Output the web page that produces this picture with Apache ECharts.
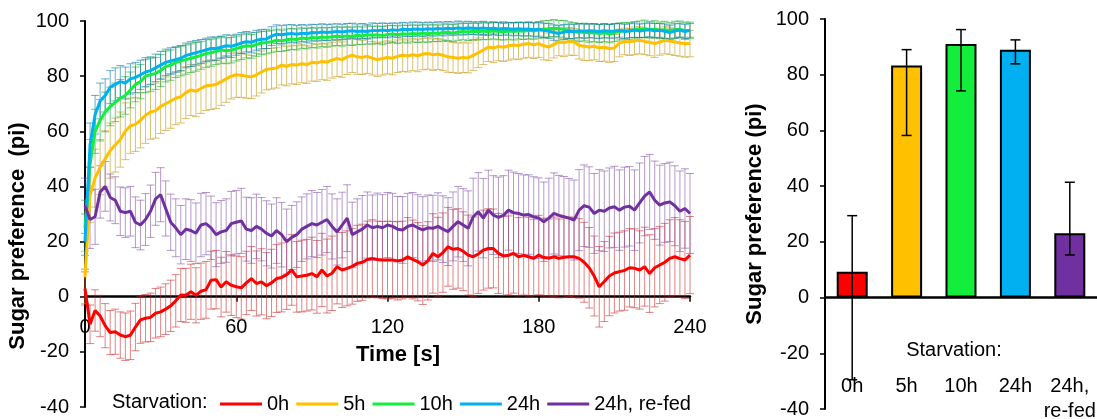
<!DOCTYPE html>
<html>
<head>
<meta charset="utf-8">
<title>Sugar preference</title>
<script src="https://cdn.jsdelivr.net/npm/echarts@6/dist/echarts.min.js"></script>
<style>
  html, body { margin: 0; padding: 0; background: #fff; }
  #chart { width: 1097px; height: 419px; }
</style>
</head>
<body>
<div id="chart"></div>
<script>
// time points (s)
const times = [
  0, 2, 4, 6, 8, 10, 12, 14, 16, 18,
  20, 22, 24, 26, 28, 30, 32, 34, 36, 38,
  40, 42, 44, 46, 48, 50, 52, 54, 56, 58,
  60, 62, 64, 66, 68, 70, 72, 74, 76, 78,
  80, 82, 84, 86, 88, 90, 92, 94, 96, 98,
  100, 102, 104, 106, 108, 110, 112, 114, 116, 118,
  120, 122, 124, 126, 128, 130, 132, 134, 136, 138,
  140, 142, 144, 146, 148, 150, 152, 154, 156, 158,
  160, 162, 164, 166, 168, 170, 172, 174, 176, 178,
  180, 182, 184, 186, 188, 190, 192, 194, 196, 198,
  200, 202, 204, 206, 208, 210, 212, 214, 216, 218,
  220, 222, 224, 226, 228, 230, 232, 234, 236, 238,
  240
];

// mean sugar preference per group
const pi0h = [
  3, -10, -5, -7, -10.5, -13, -12.7, -13.9, -14.5, -14,
  -11, -8.4, -7.8, -7.5, -6, -5.5, -4.5, -3.3, -1.5, 0.6,
  0.5, 1.8, 0.5, 2, 2.5, 6, 6.2, 3.5, 5.4, 4.2,
  3.6, 3.2, 5, 6.6, 4.8, 5.4, 4, 5, 6.6, 7,
  8, 9.7, 7.2, 7.5, 7.8, 8.4, 7.2, 9.7, 7.5, 8.5,
  10.9, 9.7, 10.3, 11, 12.1, 12.5, 13.5, 13.9, 13.5, 13.3,
  13.3, 13.3, 13, 13.3, 14.5, 13.5, 12.7, 11.5, 13, 15.7,
  14.5, 16, 18.1, 17.2, 17.5, 16.5, 15.1, 14.5, 15.5, 16.9,
  17.5, 17.5, 15.7, 14.8, 15, 15.7, 14.5, 15, 14.5, 13.9,
  15.1, 14.2, 14, 14.5, 13.9, 14.3, 14.5, 14.5, 13.9, 12.5,
  10.5, 7.5, 3.6, 5.5, 7.5, 8.6, 9.1, 9.5, 10.5, 10.3,
  9.7, 10.9, 8.4, 10.5, 11.5, 12.5, 13.9, 14.5, 13.8, 13.3,
  15.1
];
const pi5h = [
  7, 37, 43, 47, 50, 53, 55, 57, 60, 62,
  62.5, 64, 65.8, 67, 67.5, 69, 70, 71, 72, 72.5,
  74, 75, 74.5, 75.5, 76.5, 76.7, 77, 78, 79, 80,
  80.5, 80.3, 80, 79.7, 80.5, 81.5, 82.5, 82.7, 83, 84,
  83.6, 84.2, 84, 84.5, 84.2, 85, 84.8, 85.3, 85.1, 85.8,
  86.4, 86, 87, 87.6, 87, 86.8, 87.2, 86.5, 86, 86.4,
  86.8, 86.5, 87.2, 87.6, 87.3, 87.8, 87.4, 88, 88.2, 87.8,
  88, 87.6, 87, 86.8, 86.5, 86.8, 86.6, 87.5, 88.5, 89.5,
  90.6, 90.2, 90.8, 90.5, 91, 91.3, 91.1, 91.6, 91.8, 91.4,
  91.8, 91, 90.6, 91.5, 92.4, 92.2, 92.6, 92.4, 91.2, 90.8,
  90.6, 90.8, 90.3, 90.5, 90, 90.2, 92, 92.6, 92.4, 92.8,
  93, 92.6, 92.3, 91.8, 92.4, 93, 92.7, 92.4, 92, 91.8,
  91.8
];
const pi10h = [
  25, 48, 60, 64, 67, 69, 70.5, 72, 73, 75,
  77, 78, 80, 80.5, 81, 82, 83.5, 84, 85, 85.5,
  86, 86.5, 87, 87.5, 88.2, 88.5, 89, 89.5, 89.2, 89.4,
  90, 90.5, 91, 90.8, 91.5, 92, 92.2, 92.5, 93, 92.8,
  93.2, 93.5, 93.3, 93.8, 93.6, 94, 93.8, 94.2, 94, 94.3,
  94.5, 94.3, 94.6, 94.4, 94.8, 94.6, 95, 94.8, 95, 94.7,
  95.1, 95.3, 95, 95.4, 95.2, 95.5, 95.3, 95.6, 95.4, 95.7,
  95.5, 95.8, 95.9, 95.6, 96, 96.2, 96, 96.3, 96.1, 96.4,
  96.2, 96.5, 96.3, 96.1, 96.4, 96.2, 96.5, 96.3, 96.6, 96.4,
  96.8, 97, 97.2, 97.4, 97.2, 97, 96.6, 96.2, 95.8, 96,
  95.6, 95.8, 95.5, 95.7, 95.4, 95.8, 96.2, 96.5, 96.3, 96.8,
  97, 97.2, 96.8, 97, 96.6, 96.8, 96.4, 96.8, 97, 96.5,
  96.6
];
const pi24h = [
  20, 55, 66, 71, 73, 76, 77, 78, 77.5, 79,
  79.5, 80.5, 81.5, 82, 83, 84, 85, 85.5, 86, 86.5,
  87.5, 88, 88.5, 89, 89.5, 90, 90, 90.5, 91, 90.8,
  91.4, 92, 92.5, 92.3, 93, 93.4, 93.5, 94.5, 95.2, 95,
  95.3, 95.5, 95.2, 95.6, 95.4, 95.8, 95.7, 96, 95.8, 96,
  96.2, 96, 96.3, 96.5, 96.2, 96.4, 96.2, 96.6, 96.5, 96.7,
  96.5, 96.8, 96.6, 97, 96.8, 97, 97.1, 96.9, 97.2, 97,
  97.3, 97.1, 97.4, 97.2, 97.5, 97.3, 97.5, 97.4, 97.3, 97.5,
  97.2, 97.4, 97.1, 97.3, 97.2, 97, 97.2, 97, 97.1, 96.8,
  97, 96.6, 96.4, 95.8, 95.5, 96, 96.3, 96.2, 96.5, 96.3,
  96.5, 96.4, 96.2, 96.5, 96.3, 96.4, 96.6, 96.2, 96.5, 96.7,
  96.4, 96.6, 96.8, 96.5, 96.6, 96.3, 95.8, 96.4, 96.7, 96.2,
  96.6
];
const pi24hRefed = [
  33, 28, 29, 38, 40, 36, 35, 31, 30.5, 31,
  27, 26, 28, 31, 35.5, 37, 32, 27, 25, 22.5,
  24.5, 24, 23, 26, 26.5, 25, 22.5, 23.5, 24, 26.5,
  27, 27.5, 24.5, 24, 25.5, 24.5, 23, 22, 24, 22.5,
  20, 21.5, 22.5, 24.5, 25.5, 26.5, 26, 27, 28, 25.5,
  23.5, 26, 28.5, 22.5, 23.5, 24.5, 26, 25, 25.5, 25,
  26, 25.5, 24.5, 24.2, 25.5, 26, 25, 24.2, 25, 24.8,
  25.5, 24.5, 23.6, 25.5, 27.2, 26, 24.8, 29, 30.8, 28.5,
  31.4, 29.6, 28.8, 29.5, 31.4, 30.5, 30.2, 29.6, 29.8, 29,
  28.5, 27.2, 28.5, 30.2, 29.5, 29, 28.5, 27.8, 31.4, 33,
  32.5, 30.2, 31.4, 31, 32.2, 32.6, 31.4, 32.5, 32.8, 31.4,
  34, 36.5, 38, 35, 33.2, 34, 34.4, 33, 31, 32,
  30.2
];

// error (+/-) per group
const err0h = [
  6, 7, 7.5, 7.5, 8, 8, 8.2, 8.4, 8.6, 8.8,
  8.6, 8.5, 8.6, 8.8, 9, 9, 9.2, 9.3, 9.5, 9.6,
  9.8, 10, 10, 10.2, 10.3, 10.5, 10.6, 10.8, 11, 11,
  11.2, 11.3, 11.5, 11.6, 11.8, 12, 12, 12.2, 12.3, 12.5,
  12.6, 12.8, 12.8, 13, 13, 13.2, 13.2, 13.3, 13.4, 13.5,
  13.5, 13.6, 13.6, 13.7, 13.8, 13.8, 13.9, 14, 13.9, 14,
  14.1, 14, 14.2, 14.1, 14.2, 14.3, 14.2, 14.3, 14.2, 14.4,
  14.3, 14.4, 14.3, 14.5, 14.4, 14.3, 14.5, 14.4, 14.3, 14.5,
  14.4, 14.3, 14.5, 14.4, 14.3, 14.4, 14.2, 14.4, 14.3, 14.2,
  14.4, 14.3, 14.2, 14.4, 14.3, 14.5, 14.4, 14.3, 14.4, 14.5,
  14.6, 14.5, 14.6, 14.5, 14.4, 14.5, 14.3, 14.4, 14.2, 14.3,
  14.2, 14.3, 14.1, 14.2, 14, 14.1, 14, 14.2, 14.1, 14,
  14
];
const err5h = [
  9.5, 10, 10.5, 10, 10.2, 10, 9.8, 10, 10.3, 10,
  9.8, 10, 10.2, 9.9, 10, 9.8, 9.7, 9.9, 9.6, 9.5,
  9.4, 9.3, 9.2, 9, 9, 8.8, 8.7, 8.6, 8.5, 8.3,
  8.2, 8, 8, 7.8, 7.7, 7.6, 7.5, 7.4, 7.3, 7.2,
  7.1, 7, 7, 6.9, 6.8, 6.8, 6.7, 6.6, 6.6, 6.5,
  6.5, 6.4, 6.4, 6.3, 6.3, 6.2, 6.2, 6.1, 6.1, 6,
  6, 6, 5.9, 5.9, 5.8, 5.8, 5.8, 5.7, 5.7, 5.7,
  5.6, 5.6, 5.6, 5.5, 5.5, 5.5, 5.4, 5.4, 5.4, 5.3,
  5.3, 5.3, 5.2, 5.2, 5.2, 5.1, 5.1, 5.1, 5, 5,
  5, 5.1, 5, 4.9, 5, 5.1, 5, 4.9, 5, 5.1,
  5, 4.9, 5, 5.1, 5, 4.9, 5, 4.8, 4.9, 5,
  4.9, 4.8, 4.9, 5, 4.8, 4.9, 4.8, 4.9, 4.8, 4.9,
  4.8
];
const err10h = [
  10, 9, 8, 7.5, 7.2, 7, 7, 6.8, 6.8, 6.5,
  6.3, 6.2, 6, 6, 5.8, 5.8, 5.6, 5.5, 5.5, 5.4,
  5.3, 5.2, 5.2, 5, 5, 4.9, 4.8, 4.8, 4.7, 4.6,
  4.5, 4.5, 4.4, 4.3, 4.3, 4.2, 4.1, 4, 4, 3.9,
  3.9, 3.8, 3.8, 3.7, 3.7, 3.6, 3.6, 3.5, 3.5, 3.4,
  3.4, 3.4, 3.3, 3.3, 3.3, 3.2, 3.3, 3.2, 3.2, 3.3,
  3.2, 3.1, 3.2, 3.1, 3.2, 3.1, 3.1, 3.2, 3.1, 3.1,
  3, 3.1, 3, 3.1, 3, 3, 3.1, 3, 3, 3.1,
  3, 3, 3.1, 3, 3, 3.1, 3, 3, 3.1, 3,
  3, 3.1, 3, 3.1, 3, 3.2, 3.1, 3.2, 3.3, 3.2,
  3.3, 3.2, 3.3, 3.2, 3.3, 3.2, 3.1, 3, 3.1, 3,
  3, 3.1, 3, 3.1, 3, 3.1, 3, 3.1, 3, 3.1,
  3
];
const err24h = [
  10, 8, 7, 6.5, 6, 6, 6, 5.8, 5.8, 5.5,
  5.5, 5.3, 5.2, 5, 5, 5, 4.8, 4.8, 4.6, 4.6,
  4.5, 4.5, 4.4, 4.3, 4.3, 4.2, 4.2, 4, 4, 4,
  3.8, 3.8, 3.7, 3.6, 3.6, 3.5, 3.5, 3.4, 3.4, 3.3,
  3.3, 3.2, 3.2, 3.1, 3.1, 3, 3, 3, 2.9, 2.9,
  2.8, 2.8, 2.8, 2.7, 2.7, 2.7, 2.6, 2.7, 2.6, 2.6,
  2.6, 2.5, 2.6, 2.5, 2.5, 2.6, 2.5, 2.5, 2.4, 2.5,
  2.4, 2.5, 2.4, 2.4, 2.5, 2.4, 2.4, 2.3, 2.4, 2.4,
  2.4, 2.3, 2.4, 2.4, 2.3, 2.4, 2.4, 2.5, 2.4, 2.5,
  2.5, 2.6, 2.7, 2.8, 2.8, 2.7, 2.6, 2.6, 2.5, 2.6,
  2.5, 2.6, 2.5, 2.6, 2.5, 2.6, 2.5, 2.6, 2.5, 2.6,
  2.5, 2.6, 2.5, 2.6, 2.5, 2.6, 2.7, 2.6, 2.5, 2.6,
  2.5
];
const err24hRefed = [
  10, 10.5, 10, 9.5, 9, 8.5, 8.5, 8.8, 9, 9,
  9.2, 9, 9.4, 9.5, 9.6, 9.8, 10, 10.2, 10.5, 10.6,
  11, 11.2, 11, 11.5, 11.3, 11.5, 11.6, 11.4, 11.5, 11.7,
  11.5, 11.8, 11.6, 11.9, 11.7, 11.5, 11.8, 11.6, 11.9, 11.7,
  11.8, 11.6, 11.9, 11.7, 11.8, 12, 11.8, 11.9, 12, 11.8,
  12, 11.9, 12.1, 11.8, 12, 12.2, 12, 11.9, 12.1, 12,
  11.8, 12, 11.9, 12.1, 12, 11.8, 12, 12.1, 11.9, 12,
  12.2, 12.1, 12.3, 12.5, 12.8, 13.2, 13.6, 14, 14.2, 14.4,
  14.5, 14.3, 14.6, 14.4, 14.5, 14.7, 14.5, 14.6, 14.4, 14.5,
  14.6, 14.4, 14.5, 14.7, 14.5, 14.6, 14.4, 14.5, 14.7, 14.8,
  14.6, 14.5, 14.7, 14.6, 14.5, 14.7, 14.6, 14.5, 14.4, 14.6,
  14.5, 14.4, 13.6, 14.2, 14.5, 14.3, 14.4, 14.5, 14.6, 14.4,
  14.5
];

// right panel: summary per group (median with range)
const groups = ['0h', '5h', '10h', '24h', '24h,\nre-fed'];
const groupValue = [9.3, 83.3, 91, 89, 23.1];
const groupLow = [-29.5, 58.2, 74.2, 83.9, 15.3];
const groupHigh = [29.4, 89, 96.2, 92.5, 41.4];

const legendNames = ['0h', '5h', '10h', '24h', '24h, re-fed'];
const lineColors = ['#FF0000', '#FFC000', '#13EE3C', '#00B0F0', '#7030A0'];
const errColors = ['rgba(200,30,30,0.55)', 'rgba(196,150,20,0.6)', 'rgba(20,170,40,0.6)', 'rgba(0,120,170,0.6)', 'rgba(120,70,160,0.55)'];
const means = [pi0h, pi5h, pi10h, pi24h, pi24hRefed];
const errs = [err0h, err5h, err10h, err24h, err24hRefed];

const FONT = 'Liberation Sans, Arial, sans-serif';

// grid geometry: the y range is -40..100, the x axis sits on y = 0
const leftGrid = { left: 85, top: 21, width: 605, height: 386 };
const rightGrid = { left: 825, top: 19, width: 272, height: 390 };
const zeroOffset = g => -(g.height * 40 / 140);

function errorBars(i) {
  return {
    type: 'custom',
    name: legendNames[i] + ' err',
    xAxisIndex: 0,
    yAxisIndex: 0,
    z: 1,
    silent: true,
    clip: false,
    encode: { x: 0, y: [1, 2] },
    data: times.map((t, k) => [t, means[i][k] - errs[i][k], means[i][k] + errs[i][k]]),
    renderItem: function (params, api) {
      const lo = api.coord([api.value(0), api.value(1)]);
      const hi = api.coord([api.value(0), api.value(2)]);
      const w = 4;
      const st = { stroke: errColors[i], lineWidth: 1 };
      return {
        type: 'group',
        children: [
          { type: 'line', shape: { x1: lo[0], y1: lo[1], x2: hi[0], y2: hi[1] }, style: st },
          { type: 'line', shape: { x1: lo[0] - w, y1: lo[1], x2: lo[0] + w, y2: lo[1] }, style: st },
          { type: 'line', shape: { x1: hi[0] - w, y1: hi[1], x2: hi[0] + w, y2: hi[1] }, style: st }
        ]
      };
    }
  };
}

function meanLine(i) {
  return {
    type: 'line',
    name: legendNames[i],
    xAxisIndex: 0,
    yAxisIndex: 0,
    z: 3,
    symbol: 'none',
    showSymbol: false,
    data: times.map((t, k) => [t, means[i][k]]),
    lineStyle: { color: lineColors[i], width: 3 },
    itemStyle: { color: lineColors[i] }
  };
}

const yAxisCommon = {
  type: 'value',
  min: -40,
  max: 100,
  interval: 20,
  splitLine: { show: false },
  axisLine: { show: true, onZero: false, lineStyle: { color: '#000', width: 2 } },
  axisTick: { show: true, length: 5, lineStyle: { color: '#000', width: 1.5 } },
  axisLabel: { margin: 16, fontSize: 20, color: '#000', fontFamily: FONT }
};

const chart = echarts.init(document.getElementById('chart'));
chart.setOption({
  animation: false,
  backgroundColor: '#fff',
  grid: [
    Object.assign({ outerBoundsMode: 'none', containLabel: false }, leftGrid),
    Object.assign({ outerBoundsMode: 'none', containLabel: false }, rightGrid)
  ],
  xAxis: [
    {
      gridIndex: 0,
      type: 'value',
      min: 0,
      max: 240,
      interval: 60,
      offset: zeroOffset(leftGrid),
      splitLine: { show: false },
      axisLine: { onZero: false, lineStyle: { color: '#000', width: 2.5 } },
      axisTick: { length: 5, lineStyle: { color: '#000', width: 1.5 } },
      axisLabel: { margin: 21, fontSize: 20, color: '#000', fontFamily: FONT }
    },
    {
      gridIndex: 1,
      type: 'category',
      data: groups,
      offset: zeroOffset(rightGrid),
      axisLine: { onZero: false, lineStyle: { color: '#000', width: 2.5 } },
      axisTick: { show: false },
      axisLabel: { margin: 76, interval: 0, fontSize: 20, lineHeight: 25, color: '#000', fontFamily: FONT }
    }
  ],
  yAxis: [
    Object.assign({ gridIndex: 0 }, yAxisCommon),
    Object.assign({ gridIndex: 1 }, yAxisCommon)
  ],
  legend: {
    data: legendNames,
    left: 220,
    top: 394,
    padding: 0,
    icon: 'rect',
    itemWidth: 42,
    itemHeight: 3,
    itemGap: 7,
    selectedMode: false,
    textStyle: { fontSize: 20, color: '#000', fontFamily: FONT }
  },
  graphic: [
    { type: 'text', style: { x: 112, y: 402, text: 'Starvation:', font: '20px ' + FONT, fill: '#000', align: 'left', verticalAlign: 'middle' } },
    { type: 'text', style: { x: 398, y: 355, text: 'Time [s]', font: 'bold 22px ' + FONT, fill: '#000', align: 'center', verticalAlign: 'middle' } },
    { type: 'text', x: 18, y: 236, rotation: Math.PI / 2, style: { x: 0, y: 0, text: 'Sugar preference  (pi)', font: 'bold 22px ' + FONT, fill: '#000', align: 'center', verticalAlign: 'middle' } },
    { type: 'text', x: 755, y: 214, rotation: Math.PI / 2, style: { x: 0, y: 0, text: 'Sugar preference (pi)', font: 'bold 22px ' + FONT, fill: '#000', align: 'center', verticalAlign: 'middle' } },
    { type: 'text', style: { x: 954, y: 350, text: 'Starvation:', font: '20px ' + FONT, fill: '#000', align: 'center', verticalAlign: 'middle' } }
  ],
  series: [
    errorBars(0), errorBars(1), errorBars(2), errorBars(3), errorBars(4),
    meanLine(0), meanLine(1), meanLine(2), meanLine(3), meanLine(4),
    {
      type: 'bar',
      xAxisIndex: 1,
      yAxisIndex: 1,
      barWidth: 31,
      data: groupValue.map((v, i) => ({ value: v, itemStyle: { color: lineColors[i] } })),
      itemStyle: { borderColor: '#000', borderWidth: 2 },
      z: 2
    },
    {
      type: 'custom',
      xAxisIndex: 1,
      yAxisIndex: 1,
      z: 5,
      silent: true,
      encode: { x: 0, y: [1, 2] },
      data: groups.map((g, i) => [i, groupLow[i], groupHigh[i]]),
      renderItem: function (params, api) {
        const lo = api.coord([api.value(0), api.value(1)]);
        const hi = api.coord([api.value(0), api.value(2)]);
        const w = 5;
        const st = { stroke: '#000', lineWidth: 1.5 };
        return {
          type: 'group',
          children: [
            { type: 'line', shape: { x1: lo[0], y1: lo[1], x2: hi[0], y2: hi[1] }, style: st },
            { type: 'line', shape: { x1: lo[0] - w, y1: lo[1], x2: lo[0] + w, y2: lo[1] }, style: st },
            { type: 'line', shape: { x1: hi[0] - w, y1: hi[1], x2: hi[0] + w, y2: hi[1] }, style: st }
          ]
        };
      }
    }
  ]
});
</script>
</body>
</html>
